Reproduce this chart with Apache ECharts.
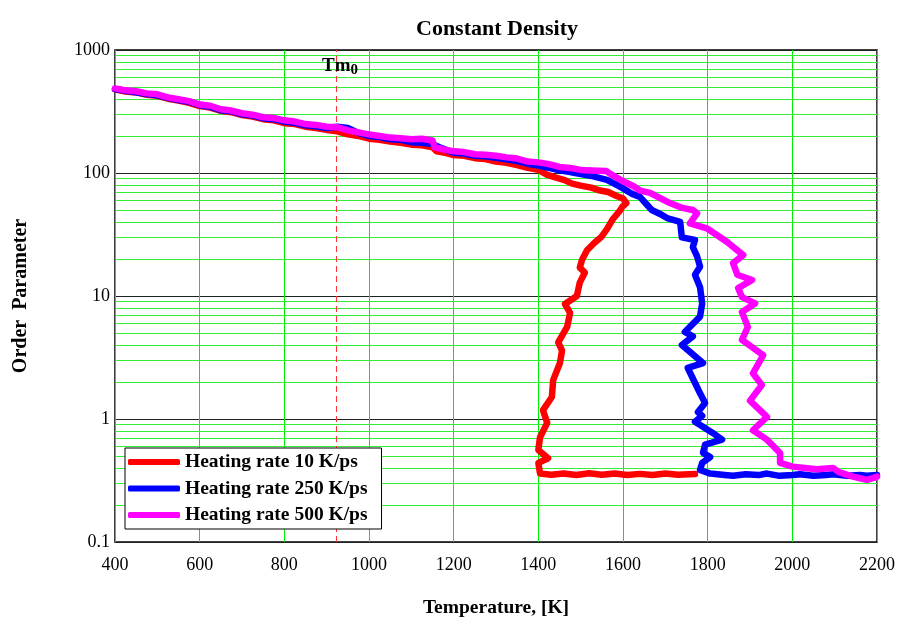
<!DOCTYPE html>
<html>
<head>
<meta charset="utf-8">
<title>Constant Density</title>
<script src="https://cdn.jsdelivr.net/npm/echarts@6/dist/echarts.min.js"></script>
<style>
  html, body { margin: 0; padding: 0; background: #fff; }
  #chart { width: 903px; height: 617px; }
</style>
</head>
<body>
<div id="chart"></div>
<script>
// Order parameter vs temperature, [T (K), order parameter]
const rate10 = [
  [400,478],[425,460],[450,452],[475,432],[500,424],[525,402],[550,388],[575,372],[600,350],
  [625,340],[650,320],[675,312],[700,296],[725,288],[750,274],[775,268],[800,254],[825,250],
  [850,238],[875,232],[900,224],[925,218],[950,206],[975,200],[1000,190],[1025,186],[1050,180],
  [1075,176],[1100,170],[1125,168],[1150,162],[1160,150],[1180,146],[1200,140],[1225,138],
  [1250,132],[1275,130],[1300,124],[1325,121],[1350,116],[1375,110],[1400,106],[1420,97],
  [1440,92],[1460,88],[1480,82],[1500,79],[1525,76],[1546,72],[1565,70],[1585,65],[1600,62],
  [1608,57],[1598,53],[1590,48],[1578,43],[1570,39],[1562,35],[1548,30],[1532,27],[1515,23.5],
  [1503,19.6],[1498,17],[1510,15.5],[1498,12.9],[1491,10],[1463,8.6],[1475,7.3],[1468,5.6],
  [1447,4.2],[1456,3.6],[1451,2.85],[1435,2.07],[1432,1.51],[1411,1.18],[1421,0.93],
  [1404,0.71],[1400,0.56],[1423,0.48],[1400,0.44],[1404,0.36],[1430,0.352],[1460,0.36],
  [1490,0.35],[1520,0.362],[1550,0.352],[1580,0.36],[1610,0.35],[1640,0.358],[1670,0.35],
  [1700,0.36],[1730,0.352],[1770,0.357]
];
const rate250 = [
  [400,482],[425,466],[450,454],[475,438],[500,428],[525,408],[550,392],[575,380],[600,356],
  [625,346],[650,324],[675,318],[700,300],[725,294],[750,278],[775,274],[800,262],[825,256],
  [850,244],[875,240],[900,232],[925,238],[950,232],[975,212],[1000,200],[1025,196],
  [1050,188],[1075,186],[1100,178],[1125,176],[1150,172],[1170,160],[1200,146],[1225,144],
  [1250,138],[1275,137],[1300,133],[1325,129],[1350,125],[1375,119],[1400,115],[1425,110],
  [1450,105],[1475,102],[1500,98],[1530,94],[1562,88],[1585,80],[1600,75],[1620,68],
  [1640,64],[1655,56],[1668,50],[1690,46],[1704,43],[1735,40],[1739,30],[1770,28.5],
  [1765,25],[1775,21],[1782,17.3],[1770,14.9],[1782,11.8],[1787,8.7],[1782,6.8],[1746,5.1],
  [1765,4.7],[1739,4.0],[1789,2.85],[1753,2.6],[1782,1.62],[1794,1.35],[1777,1.14],
  [1787,1.06],[1770,0.95],[1812,0.77],[1834,0.68],[1794,0.62],[1789,0.53],[1806,0.49],
  [1787,0.44],[1782,0.385],[1806,0.36],[1840,0.35],[1860,0.345],[1890,0.355],[1920,0.35],
  [1940,0.36],[1970,0.345],[2000,0.35],[2018,0.355],[2050,0.345],[2080,0.35],[2096,0.355],
  [2130,0.345],[2160,0.35],[2176,0.345],[2200,0.35]
];
const rate500 = [
  [400,488],[425,470],[450,462],[475,444],[500,436],[525,412],[550,398],[575,384],[600,360],
  [625,352],[650,330],[675,322],[700,306],[725,298],[750,284],[775,280],[800,268],[825,262],
  [850,250],[875,246],[900,238],[925,236],[950,222],[975,214],[1000,206],[1025,200],
  [1050,194],[1075,192],[1100,188],[1125,190],[1150,184],[1155,162],[1175,156],[1200,150],
  [1225,148],[1250,142],[1275,141],[1300,138],[1325,134],[1350,131],[1375,124],[1400,122],
  [1425,118],[1450,112],[1475,110],[1500,106],[1525,105],[1560,104],[1575,96],[1605,84],
  [1625,78],[1640,72],[1664,69],[1690,62],[1711,57],[1740,52],[1765,50],[1775,47],[1758,39],
  [1798,35.5],[1846,27.5],[1884,21.5],[1860,18.5],[1870,14.9],[1905,13.5],[1872,11.6],
  [1881,9.8],[1912,8.7],[1881,7.4],[1895,5.6],[1881,4.4],[1931,3.3],[1907,2.35],[1928,1.89],
  [1900,1.41],[1940,1.04],[1907,0.81],[1940,0.68],[1971,0.53],[1971,0.44],[2001,0.41],
  [2030,0.40],[2058,0.39],[2096,0.40],[2110,0.37],[2143,0.34],[2160,0.33],[2176,0.32],
  [2190,0.33],[2200,0.34]
];

const seriesNames = ['Heating rate 10 K/ps', 'Heating rate 250 K/ps', 'Heating rate 500 K/ps'];
const seriesColors = ['#ff0000', '#0000ff', '#ff00ff'];
const xTicks = [400, 600, 800, 1000, 1200, 1400, 1600, 1800, 2000, 2200];
const yTicks = ['0.1', '1', '10', '100', '1000'];
const TM0 = 922;

// minor decade lines 2..9 within each decade
const minorLevels = [];
[0.1, 1, 10, 100].forEach(function (d) {
  for (let k = 2; k <= 9; k++) minorLevels.push(Number((d * k).toPrecision(3)));
});

const FONT = '"Liberation Serif", "Times New Roman", serif';
const chart = echarts.init(document.getElementById('chart'), null, { renderer: 'canvas' });

const dataSets = [rate10, rate250, rate500];
const lineSeries = dataSets.map(function (d, i) {
  return {
    name: seriesNames[i],
    type: 'line',
    data: d,
    showSymbol: false,
    symbol: 'none',
    z: 2 + i,
    lineStyle: { color: seriesColors[i], width: 6.5, cap: 'round', join: 'round' },
    itemStyle: { color: seriesColors[i] }
  };
});

const option = {
  animation: false,
  backgroundColor: '#fff',
  title: {
    text: 'Constant Density',
    left: 411,
    top: 13,
    textStyle: { fontFamily: FONT, fontWeight: 'bold', fontSize: 22, color: '#000' }
  },
  grid: {
    left: 115, right: 26, top: 50, bottom: 75,
    outerBoundsMode: 'none',
    containLabel: false,
    show: true, borderColor: '#000', borderWidth: 1.5, backgroundColor: 'transparent'
  },
  legend: {
    orient: 'vertical',
    left: 125,
    top: 448,
    z: 10,
    data: seriesNames,
    icon: 'roundRect',
    itemWidth: 52,
    itemHeight: 6,
    itemGap: 6.5,
    itemTextGap: 7,
    padding: [4, 14, 4, 3],
    backgroundColor: '#fff',
    borderColor: '#000',
    borderWidth: 1,
    borderRadius: 0,
    textStyle: { fontFamily: FONT, fontWeight: 'bold', fontSize: 19.5, color: '#000' }
  },
  xAxis: {
    type: 'value',
    min: xTicks[0],
    max: xTicks[xTicks.length - 1],
    interval: 200,
    name: 'Temperature, [K]',
    nameLocation: 'middle',
    nameGap: 56,
    nameTextStyle: { fontFamily: FONT, fontWeight: 'bold', fontSize: 19.5, color: '#000' },
    axisLine: { show: false },
    axisTick: { show: false },
    axisLabel: {
      fontFamily: FONT, fontSize: 18, color: '#000', margin: 14,
      formatter: function (v) { return String(v); }
    },
    splitLine: { show: true, lineStyle: { color: '#00ee00', width: 1 } }
  },
  yAxis: {
    type: 'log',
    logBase: 10,
    min: Number(yTicks[0]),
    max: Number(yTicks[yTicks.length - 1]),
    name: 'Order  Parameter',
    nameLocation: 'middle',
    nameGap: 84,
    nameTextStyle: { fontFamily: FONT, fontWeight: 'bold', fontSize: 20, color: '#000' },
    axisLine: { show: false },
    axisTick: { show: false },
    axisLabel: {
      fontFamily: FONT, fontSize: 18, color: '#000', margin: 5,
      formatter: function (v) {
        const s = String(Number(v.toPrecision(3)));
        return yTicks.indexOf(s) >= 0 ? s : '';
      }
    },
    splitLine: { show: true, lineStyle: { color: '#222', width: 1 } }
  },
  series: [
    {
      // minor grid lines and the Tm0 marker
      type: 'line',
      data: [],
      silent: true,
      z: 1,
      markLine: {
        silent: true,
        z: 1,
        symbol: 'none',
        animation: false,
        label: { show: false },
        emphasis: { disabled: true },
        data: minorLevels.map(function (v) {
          return { yAxis: v, lineStyle: { color: '#33ee33', width: 1, type: 'solid' } };
        }).concat([
          { xAxis: TM0, lineStyle: { color: '#ff3333', width: 1, type: [6, 4] } }
        ])
      }
    }
  ].concat(lineSeries)
};

chart.setOption(option);

// Tm0 annotation next to the dashed marker line
const tmX = chart.convertToPixel({ xAxisIndex: 0 }, TM0);
const topY = chart.convertToPixel({ yAxisIndex: 0 }, Number(yTicks[yTicks.length - 1]));
chart.setOption({
  graphic: [{
    type: 'text',
    x: tmX + 4,
    y: topY + 16,
    z: 10,
    style: {
      text: '{m|Tm}{s|0}',
      align: 'center',
      verticalAlign: 'middle',
      rich: {
        m: { fontFamily: FONT, fontWeight: 'bold', fontSize: 19, fill: '#000' },
        s: { fontFamily: FONT, fontWeight: 'bold', fontSize: 15, fill: '#000', padding: [9, 0, 0, 0] }
      }
    }
  }]
});
</script>
</body>
</html>
